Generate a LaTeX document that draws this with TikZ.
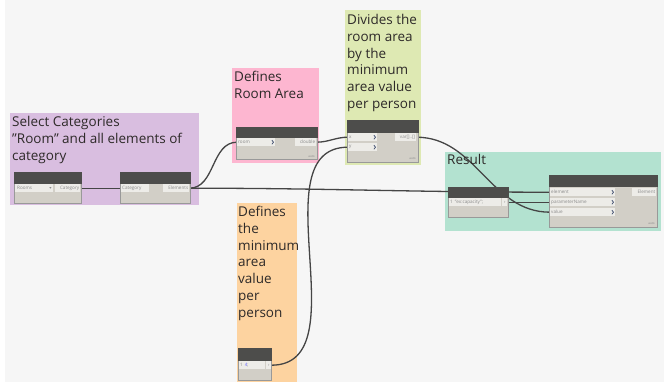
\documentclass[tikz,border=0pt]{standalone}
\usepackage{fontspec}
\setmainfont{Open Sans}
\usetikzlibrary{calc}
\pgfdeclarelayer{bg}
\pgfdeclarelayer{wirelayer}
\pgfsetlayers{bg,wirelayer,main}
\newcommand{\sq}{\char"22\relax}
\definecolor{bgc}{HTML}{F6F6F6}
\definecolor{grpPurple}{HTML}{D9BEE0}
\definecolor{grpPink}{HTML}{FDB6D0}
\definecolor{grpGreen}{HTML}{DEE9B3}
\definecolor{grpOrange}{HTML}{FDD3A0}
\definecolor{grpTeal}{HTML}{B3E2D0}
\definecolor{hdr}{HTML}{4D4D4B}
\definecolor{bodyc}{HTML}{D2CFC7}
\definecolor{portc}{HTML}{EDECE8}
\definecolor{wirec}{HTML}{454545}
\definecolor{titlec}{HTML}{2E2A29}
\definecolor{lblc}{HTML}{8A8A8A}
\definecolor{chevc}{HTML}{3B4A6B}
\tikzset{
  x=1pt, y=-1pt,
  gtitle/.style={anchor=north west, inner sep=0pt, align=left, text=titlec,
    font=\fontsize{13.5}{16.8}\selectfont},
  nbody/.style={anchor=north west, inner sep=0pt, fill=bodyc, draw=black!40, line width=0.4pt},
  nhead/.style={anchor=north west, inner sep=0pt, fill=hdr, draw=hdr, line width=0.4pt},
  port/.style={anchor=north west, inner sep=0pt, fill=portc, draw=none, minimum height=8pt},
  plbl/.style={inner sep=0pt, text=lblc, font=\fontsize{4.6}{5}\selectfont},
  lacing/.style={anchor=south east, inner sep=0pt, text=lblc, font=\fontsize{3}{3}\selectfont},
  chev/.style={draw=chevc, line width=0.7pt},
  wire/.style={draw=wirec, line width=1.3pt},
}
\begin{document}
\begin{tikzpicture}
\useasboundingbox (0,0) rectangle (664,382);
\begin{pgfonlayer}{bg}
  \fill[white] (0,0) rectangle (664,382);
  \fill[bgc] (5,0) rectangle (664,382);
  \fill[grpPurple] (10,113) rectangle (199,205);
  \fill[grpPink] (232,68) rectangle (319,163);
  \fill[grpGreen] (345,10) rectangle (421,165);
  \fill[grpOrange] (237,203) rectangle (297,382);
  \fill[grpTeal] (445,152) rectangle (661,231);
\end{pgfonlayer}

% group titles
\node[gtitle] (tPurple) at (12,116) {Select Categories\\\sq Room\sq{} and all elements of\\category};
\node[gtitle] (tPink) at (234,71) {Defines\\Room Area};
\node[gtitle] (tGreen) at (347,14) {Divides the\\room area\\by the\\minimum\\area value\\per person};
\node[gtitle] (tOrange) at (238,206) {Defines\\the\\minimum\\area\\value\\per\\person};
\node[gtitle] (tTeal) at (447,154) {Result};

% Node A: Categories
\node[nbody, minimum width=67pt, minimum height=31pt] (A) at (14,172) {};
\node[nhead, minimum width=67pt, minimum height=11pt] (Ah) at (14,172) {};
\node[port, minimum width=38pt] (Ain) at (15,184) {};
\node[plbl, anchor=west] (AinL) at ($(Ain.west)+(2,0)$) {Rooms};
\fill[lblc] ($(Ain.east)+(-4,-1)$) -- ++(2,0) -- ++(-1,1.5) -- cycle;
\node[port, minimum width=25pt] (Aout) at (55,184) {};
\node[plbl, anchor=east] (AoutL) at ($(Aout.east)+(-1,0)$) {Category};

% Node B: All Elements of Category
\node[nbody, minimum width=70pt, minimum height=31pt] (B) at (120,172) {};
\node[nhead, minimum width=70pt, minimum height=11pt] (Bh) at (120,172) {};
\node[port, minimum width=28pt] (Bin) at (121,184) {};
\node[plbl, anchor=west] (BinL) at ($(Bin.west)+(1,0)$) {Category};
\node[port, minimum width=26pt] (Bout) at (163,184) {};
\node[plbl, anchor=east] (BoutL) at ($(Bout.east)+(-1,0)$) {Elements};

% Node C: Room.Area
\node[nbody, minimum width=81pt, minimum height=32pt] (C) at (236,127) {};
\node[nhead, minimum width=81pt, minimum height=10pt] (Ch) at (236,127) {};
\node[port, minimum width=38pt] (Cin) at (237,138) {};
\node[plbl, anchor=west] (CinL) at ($(Cin.west)+(1,0)$) {room};
\draw[chev] ($(Cin.east)+(-3.5,-2)$) -- ++(1.6,2) -- ++(-1.6,2);
\node[port, minimum width=21pt] (Cout) at (295,138) {};
\node[plbl, anchor=east] (CoutL) at ($(Cout.east)+(-1,0)$) {double};
\node[lacing] (Clac) at (315,158) {auto};

% Node D: division
\node[nbody, minimum width=71pt, minimum height=42pt] (D) at (347,120) {};
\node[nhead, minimum width=71pt, minimum height=12pt] (Dh) at (347,120) {};
\node[port, minimum width=29pt] (Dx) at (348,133) {};
\node[plbl, anchor=west] (DxL) at ($(Dx.west)+(1,0)$) {x};
\draw[chev] ($(Dx.east)+(-3.5,-2)$) -- ++(1.6,2) -- ++(-1.6,2);
\node[port, minimum width=29pt] (Dy) at (348,143) {};
\node[plbl, anchor=west] (DyL) at ($(Dy.west)+(1,0)$) {y};
\draw[chev] ($(Dy.east)+(-3.5,-2)$) -- ++(1.6,2) -- ++(-1.6,2);
\node[port, minimum width=21pt] (Dout) at (395,133) {};
\node[plbl, anchor=east] (DoutL) at ($(Dout.east)+(-1,0)$) {var[]..[]};
\node[lacing] (Dlac) at (416,160) {auto};

% Node E: code block
\node[nbody, minimum width=33pt, minimum height=32pt] (E) at (238,348) {};
\node[nhead, minimum width=33pt, minimum height=12pt] (Eh) at (238,348) {};
\node[port, minimum width=26pt] (Ecode) at (239,361) {};
\node[plbl, anchor=west] (EcodeL) at ($(Ecode.west)+(1,0)$) {1\hspace{2pt}{\color{blue!60}4};};
\node[port, minimum width=5pt] (Eout) at (266,361) {};
\node[plbl, anchor=center] (EoutL) at (Eout.center) {›};

% Node F: code block with parameter name
\node[nbody, minimum width=60pt, minimum height=30pt] (F) at (448,187) {};
\node[nhead, minimum width=60pt, minimum height=10pt] (Fh) at (448,187) {};
\node[port, minimum width=52pt] (Fcode) at (449,198) {};
\node[plbl, anchor=west] (FcodeL) at ($(Fcode.west)+(1,0)$) {1\hspace{2pt}\sq ex:capacity\sq;};
\node[port, minimum width=5pt] (Fout) at (502,198) {};
\node[plbl, anchor=center] (FoutL) at (Fout.center) {›};

% Node G: SetParameterByName
\node[nbody, minimum width=108pt, minimum height=52pt] (G) at (549,175) {};
\node[nhead, minimum width=108pt, minimum height=11pt] (Gh) at (549,175) {};
\node[port, minimum width=65pt] (Gel) at (550,188) {};
\node[plbl, anchor=west] (GelL) at ($(Gel.west)+(1,0)$) {element};
\draw[chev] ($(Gel.east)+(-3.5,-2)$) -- ++(1.6,2) -- ++(-1.6,2);
\node[port, minimum width=65pt] (Gpn) at (550,198) {};
\node[plbl, anchor=west] (GpnL) at ($(Gpn.west)+(1,0)$) {parameterName};
\draw[chev] ($(Gpn.east)+(-3.5,-2)$) -- ++(1.6,2) -- ++(-1.6,2);
\node[port, minimum width=65pt] (Gval) at (550,208) {};
\node[plbl, anchor=west] (GvalL) at ($(Gval.west)+(1,0)$) {value};
\draw[chev] ($(Gval.east)+(-3.5,-2)$) -- ++(1.6,2) -- ++(-1.6,2);
\node[port, minimum width=24pt] (Gout) at (632,188) {};
\node[plbl, anchor=east] (GoutL) at ($(Gout.east)+(-1,0)$) {Element};
\node[lacing] (Glac) at (655,225) {auto};

% wires
\begin{pgfonlayer}{wirelayer}
  \draw[wire] (Aout.east) -- (Bin.west);
  \draw[wire] (Bout.east) to[out=0,in=180] (Cin.west);
  \draw[wire] (Bout.east) to[out=0,in=180] (Gel.west);
  \draw[wire] (Cout.east) to[out=0,in=180] (Dx.west);
  \draw[wire] (Eout.east) to[out=0,in=180] (Dy.west);
  \draw[wire] (Dout.east) to[out=0,in=180] (Gval.west);
  \draw[wire] (Fout.east) -- (Gpn.west);
\end{pgfonlayer}
\end{tikzpicture}
\end{document}
